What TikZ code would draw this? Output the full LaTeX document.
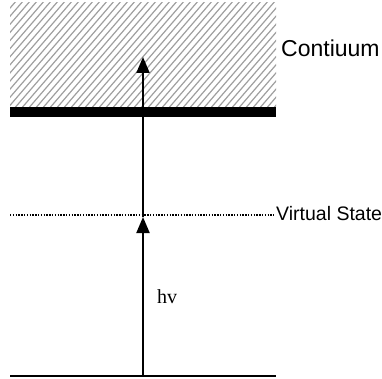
\documentclass[tikz,border=0pt]{standalone}
\usepackage{fontspec}
\setmainfont{Liberation Sans}
\newfontfamily\serifhv{Liberation Serif}
\usetikzlibrary{arrows.meta, positioning}

\begin{document}
\begin{tikzpicture}[x=1pt, y=-1pt,
  level/.style={line width=2pt},
  photon/.style={line width=2pt, -{Triangle[length=16pt, width=13pt]}},
  lab/.style={font=\fontsize{19.5}{22}\selectfont, anchor=west, inner sep=1pt}]

\useasboundingbox (0,0) rectangle (382,379);

% --- Continuum band (hatched) ---
\begin{scope}
  \clip (10,3) rectangle (276,108);
  \foreach \s in {-120,-113,...,300}
    \draw[gray!75, line width=1.2pt] (\s,110) -- (\s+95,0);
\end{scope}
\fill (10,107) rectangle (276,117);
\node[lab, font=\fontsize{23}{26}\selectfont] (cont) at (280,48) {Contiuum};

% --- Virtual state ---
\draw[line width=1.2pt, dash pattern=on 1.4pt off 1.4pt] (10,215) -- (274,215);
\node[lab] (virt) at (275,214) {Virtual State};

% --- Ground level ---
\draw[level] (10,376) -- (276,376);

% --- Photon arrows ---
\coordinate (ground) at (143,376);
\coordinate (vtip) at (143,217);
\coordinate (ctip) at (143,57);
\draw[photon] (ground) -- (vtip);
\draw[photon] (vtip) -- (ctip);
\node[font=\serifhv\fontsize{20}{22}\selectfont, inner sep=0pt] (hv) at (167,297) {hv};

\end{tikzpicture}
\end{document}
